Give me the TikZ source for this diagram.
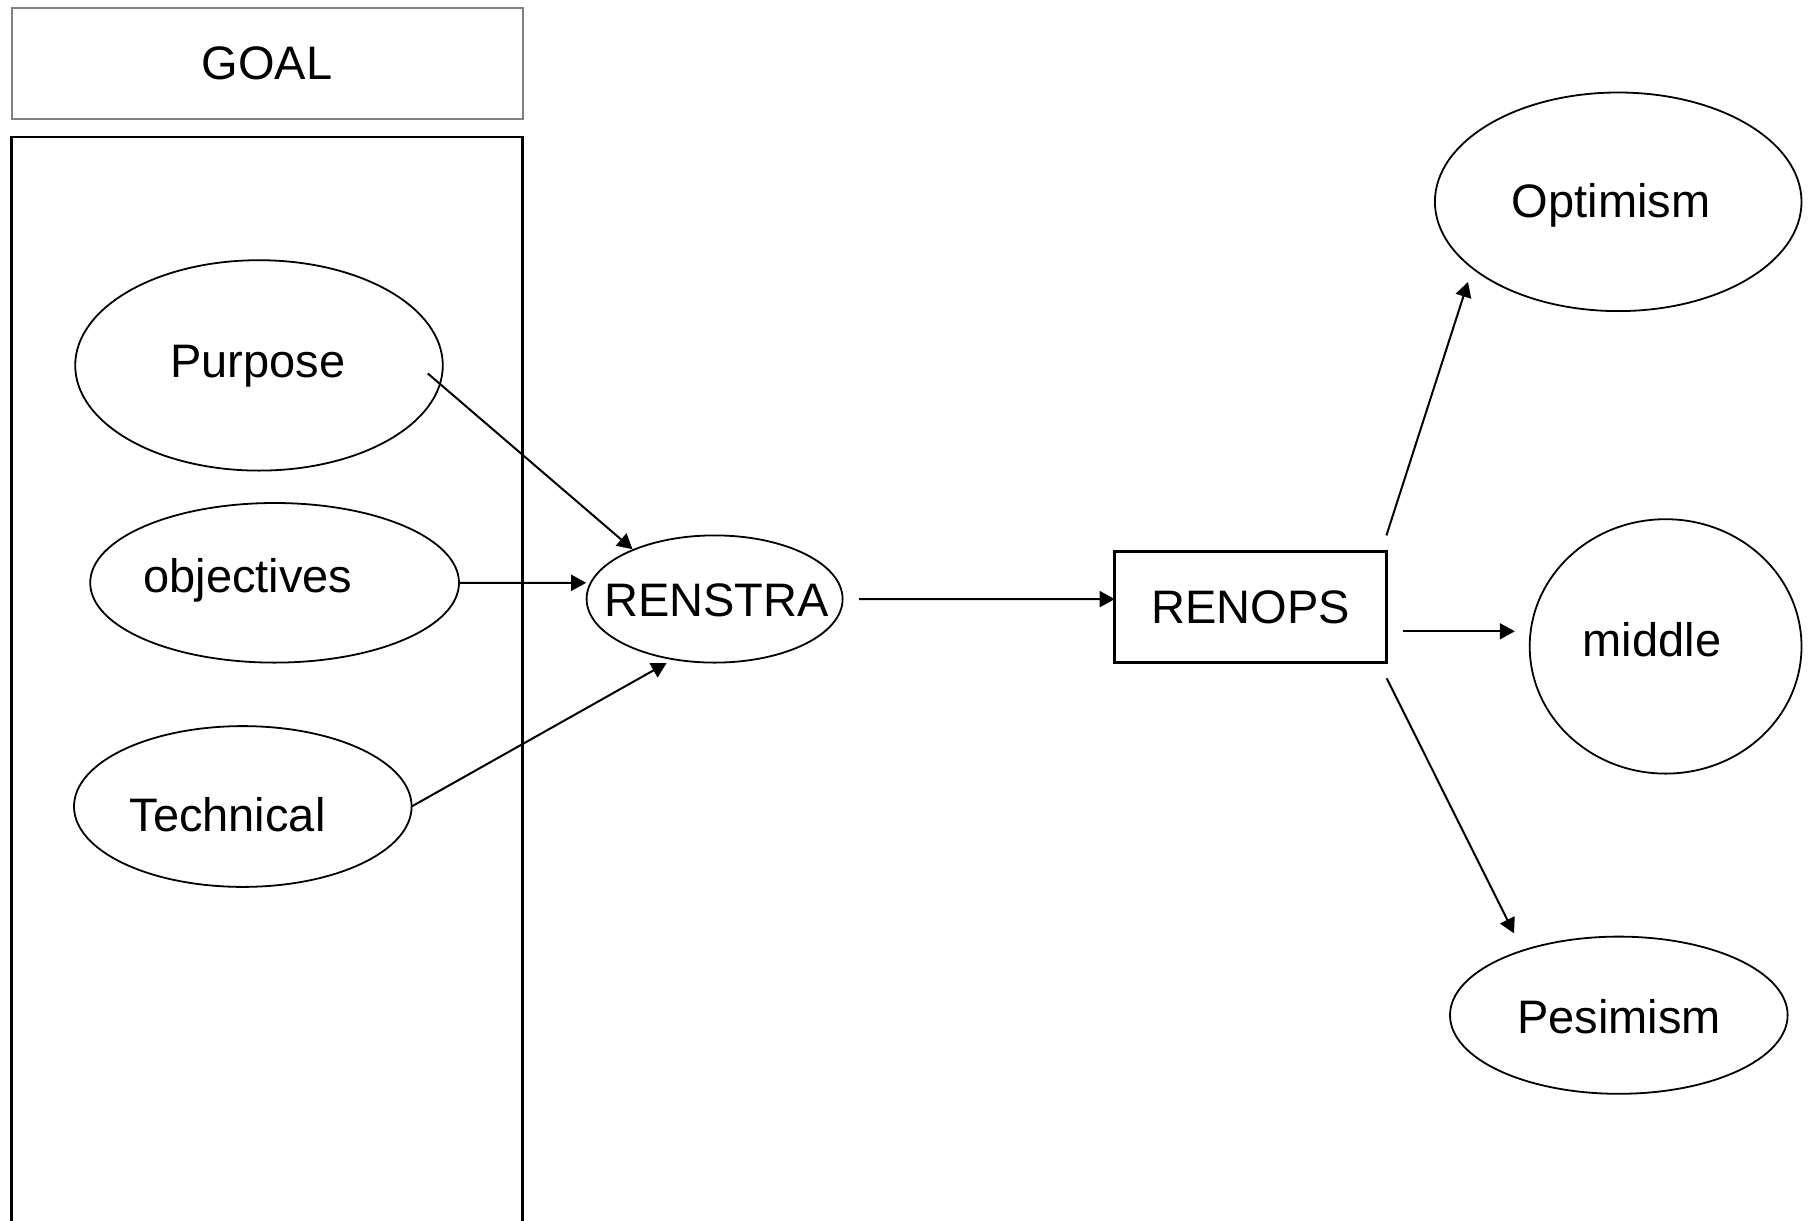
\documentclass[tikz,border=0pt]{standalone}
\usepackage{fontspec}
\setmainfont{Liberation Sans}
\usetikzlibrary{shapes.geometric,arrows.meta,calc}
\begin{document}
\begin{tikzpicture}[x=0.5pt,y=-0.5pt,
  every node/.style={font=\fontsize{23.5}{28}\selectfont},
  oval/.style={draw, ellipse, inner sep=0pt, outer sep=0pt, line width=0.9pt},
  lbl/.style={anchor=base, inner sep=0pt, outer sep=0pt},
  arr/.style={-{Triangle[length=7.5pt,width=8pt]}, line width=1pt},
  boxed/.style={draw, rectangle, inner sep=0pt, outer sep=0pt},
]
\useasboundingbox (0,0) rectangle (1813,1220);
\fill[white] (0,0) rectangle (1813,1220);

% goal header and frame
\node[boxed, draw=gray, line width=1pt, minimum width=255.5pt, minimum height=55.5pt] (goal) at (267.1,63.6) {GOAL};
\draw[line width=1.4pt] (11.6,1235) -- (11.6,137) -- (522.6,137) -- (522.6,1235);

% ellipses
\node[oval, minimum width=183.8pt, minimum height=105.2pt] (purpose) at (259,365.4) {};
\node[oval, minimum width=184.4pt, minimum height=79.8pt] (objectives) at (274.6,582.8) {};
\node[oval, minimum width=168.8pt, minimum height=80.4pt] (technical) at (242.8,806.5) {};
\node[oval, minimum width=128pt, minimum height=63.6pt] (renstra) at (714.6,599) {};
\node[oval, minimum width=183.3pt, minimum height=109.3pt] (optimism) at (1618.2,201.8) {};
\node[oval, minimum width=135.9pt, minimum height=127.2pt] (middle) at (1665.6,646.4) {};
\node[oval, minimum width=168.8pt, minimum height=78.6pt] (pesimism) at (1618.8,1015.2) {};

% labels
\node[lbl] (purposeT) at (258,377) {Purpose};
\node[lbl] (objectivesT) at (248,592) {objectives};
\node[lbl] (technicalT) at (227.5,831) {Technical};
\node[lbl] (renstraT) at (716.5,616) {RENSTRA};
\node[lbl] (optimismT) at (1611,217) {Optimism};
\node[lbl] (middleT) at (1652,656) {middle};
\node[lbl] (pesimismT) at (1619,1033) {Pesimism};

% renops box
\node[boxed, line width=1.4pt, minimum width=135.85pt, minimum height=55.5pt] (renops) at (1250.55,607.1) {RENOPS};

% connectors
\draw[arr] ($(purpose)+(168.8,8.1)$) -- ($(renstra)+(-82.1,-49.8)$);
\draw[arr] (objectives.east) -- ($(renstra)+(-128.4,-16.2)$);
\draw[arr] (technical.east) -- ($(renstra)+(-48,64)$);
\draw[arr] ($(renstra)+(144.4,0)$) -- ($(renops.west)+(0,-8)$);
\draw[arr] ($(renops.north east)+(0,-16.2)$) -- ($(optimism)+(-150.2,80.2)$);
\draw[arr] ($(renops.east)+(16.2,24.2)$) -- ($(middle)+(-150.8,-15.1)$);
\draw[arr] ($(renops.south east)+(0.3,15.7)$) -- ($(pesimism)+(-104.8,-81.9)$);
\end{tikzpicture}
\end{document}
